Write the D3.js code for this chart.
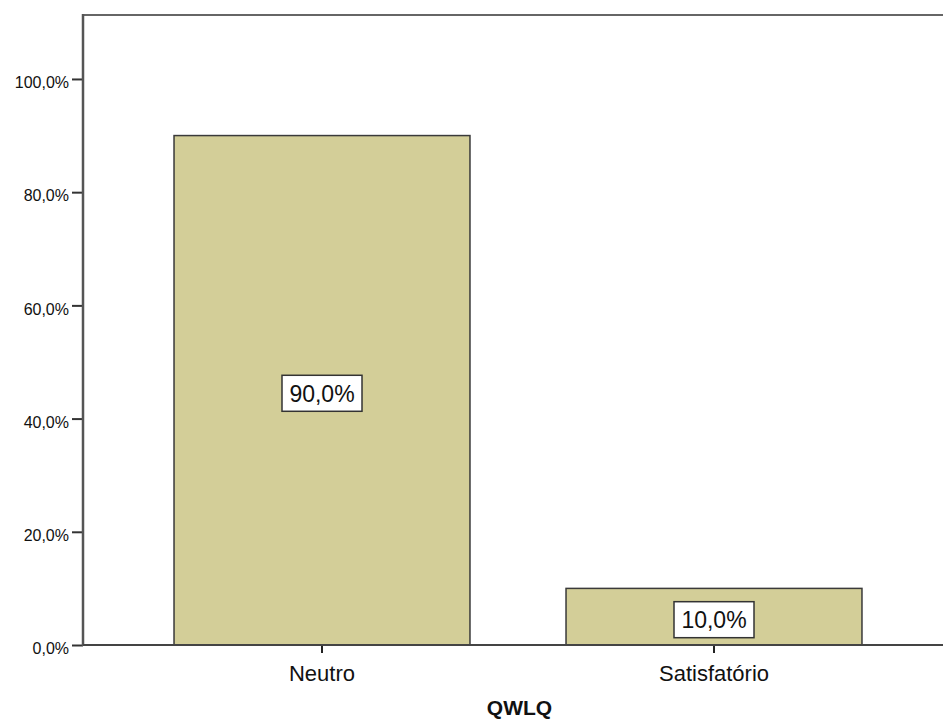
<!DOCTYPE html>
<html>
<head>
<meta charset="utf-8">
<script src="https://cdn.jsdelivr.net/npm/d3@7"></script>
<style>
  body { margin: 0; background: #fff; }
  svg text { font-family: Arial, "Liberation Sans", sans-serif; fill: #111; }
</style>
</head>
<body>
<svg id="chart" width="943" height="722"></svg>
<script>
var categories = ["Neutro", "Satisfatório"];
var percents = [90.0, 10.0];
var yTicks = [0, 20, 40, 60, 80, 100];
var xTitle = "QWLQ";

var svg = d3.select("#chart");
var plotLeft = 83, plotTop = 15, plotBottom = 645, plotRight = 960;

var x = d3.scaleBand()
    .domain(categories)
    .range([126, 910])
    .paddingInner(0.245)
    .paddingOuter(0.1225);

var y = d3.scaleLinear()
    .domain([0, 111.3])
    .range([plotBottom, plotTop]);

function fmt(v) {
    return v.toFixed(1).replace(".", ",") + "%";
}

// frame top line
svg.append("line")
    .attr("x1", plotLeft).attr("x2", plotRight)
    .attr("y1", plotTop).attr("y2", plotTop)
    .attr("stroke", "#666").attr("stroke-width", 2);

// bars
svg.selectAll("rect.bar")
    .data(percents)
    .enter().append("rect")
    .attr("class", "bar")
    .attr("x", function(d, i) { return x(categories[i]); })
    .attr("y", function(d) { return y(d); })
    .attr("width", x.bandwidth())
    .attr("height", function(d) { return y(0) - y(d); })
    .attr("fill", "#d3ce98")
    .attr("stroke", "#3a3a3a")
    .attr("stroke-width", 1.5);

// y axis
var yAxis = svg.append("g")
    .attr("transform", "translate(" + plotLeft + ",0)")
    .call(d3.axisLeft(y).tickValues(yTicks).tickFormat(fmt).tickSize(11).tickPadding(3));
yAxis.select(".domain").remove();
yAxis.selectAll(".tick line").attr("stroke", "#333").attr("stroke-width", 2);
yAxis.selectAll(".tick text")
    .style("font-size", "16px")
    .attr("dy", "0.55em");
svg.append("line")
    .attr("x1", plotLeft).attr("x2", plotLeft)
    .attr("y1", plotTop - 1).attr("y2", plotBottom + 1)
    .attr("stroke", "#555").attr("stroke-width", 2.5);

// x axis
var xAxis = svg.append("g")
    .attr("transform", "translate(0," + plotBottom + ")")
    .call(d3.axisBottom(x).tickSize(8).tickPadding(8));
xAxis.select(".domain").remove();
xAxis.selectAll(".tick line").attr("stroke", "#222").attr("stroke-width", 2);
xAxis.selectAll(".tick text")
    .style("font-size", "22px")
    .attr("dy", "0.9em");
svg.append("line")
    .attr("x1", plotLeft).attr("x2", plotRight)
    .attr("y1", plotBottom).attr("y2", plotBottom)
    .attr("stroke", "#444").attr("stroke-width", 2);

// value labels
var labels = svg.selectAll("g.vlabel")
    .data(percents)
    .enter().append("g")
    .attr("class", "vlabel")
    .attr("transform", function(d, i) {
        return "translate(" + (x(categories[i]) + x.bandwidth() / 2) + "," + (y(d / 2) + 3) + ")";
    });
labels.append("rect")
    .attr("x", -40).attr("y", -18)
    .attr("width", 80).attr("height", 36)
    .attr("fill", "#fff")
    .attr("stroke", "#333")
    .attr("stroke-width", 1.5);
labels.append("text")
    .attr("text-anchor", "middle")
    .attr("dy", "0.36em")
    .style("font-size", "23px")
    .text(function(d) { return fmt(d); });

// axis title
svg.append("text")
    .attr("x", (plotLeft + plotRight) / 2 - 2)
    .attr("y", 715)
    .attr("text-anchor", "middle")
    .style("font-size", "21px")
    .style("font-weight", "bold")
    .text(xTitle);
</script>
</body>
</html>
